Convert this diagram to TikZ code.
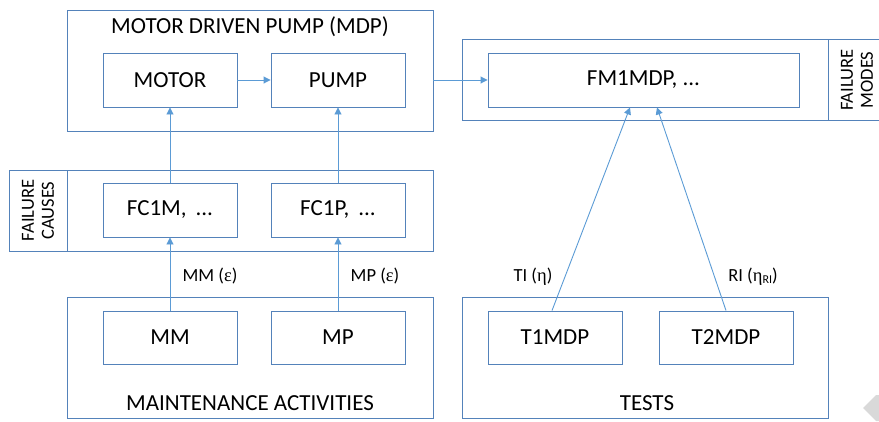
\documentclass[tikz,border=0pt]{standalone}
\usepackage{fontspec}
\setmainfont{Carlito}
\newfontfamily\grk{Liberation Serif}
\usetikzlibrary{arrows.meta,calc}
\definecolor{boxc}{RGB}{84,130,186}
\definecolor{arrc}{RGB}{91,155,213}
\begin{document}
\begin{tikzpicture}[x=1pt,y=-1pt,
 outerbox/.style={draw=boxc,line width=0.9pt,inner sep=0pt},
 innerbox/.style={draw=boxc,line width=0.9pt,minimum height=54pt,inner sep=0pt,font=\fontsize{23}{27}\selectfont},
 conn/.style={draw=arrc,line width=0.9pt},
 arr/.style={conn,-{Triangle[length=7pt,width=7pt]}},
 titletext/.style={font=\fontsize{23}{27}\selectfont,inner sep=0pt},
 sidetext/.style={font=\fontsize{18.5}{20}\selectfont,align=center,rotate=90,inner sep=0pt},
 elabel/.style={font=\fontsize{18.5}{21}\selectfont,inner sep=0pt}]
\useasboundingbox (0,0) rectangle (879,421);

% outer groups
\node[outerbox,minimum width=366pt,minimum height=121pt] (mdp) at (250,70.5) {};
\node[titletext] (mdpt) at (250,27) {MOTOR DRIVEN PUMP (MDP)};

\node[outerbox,minimum width=424pt,minimum height=81pt] (fcg) at (221,210.5) {};
\draw[boxc,line width=0.9pt] (67,170) -- (67,251);
\node[sidetext] (fclab) at (38,210.5) {FAILURE\\CAUSES};

\draw[boxc,line width=0.9pt] (879,39) -- (462,39) -- (462,120) -- (879,120);
\draw[boxc,line width=0.9pt] (828,39) -- (828,120);
\node[sidetext] (fmlab) at (857,80) {FAILURE\\MODES};

\node[outerbox,minimum width=366pt,minimum height=121pt] (maint) at (250,357.5) {};
\node[titletext] (maintt) at (250,403) {MAINTENANCE ACTIVITIES};

\node[outerbox,minimum width=366pt,minimum height=121pt] (tests) at (645,357.5) {};
\node[titletext] (testst) at (647,403) {TESTS};

% inner boxes
\node[innerbox,minimum width=134pt] (motor) at (170,80) {MOTOR};
\node[innerbox,minimum width=134pt] (pump) at (338,80) {PUMP};
\node[innerbox,minimum width=311pt] (fm) at (643.5,80) {FM1MDP, ...};
\node[innerbox,minimum width=134pt] (fc1m) at (170,210) {FC1M,\, ...};
\node[innerbox,minimum width=134pt] (fc1p) at (338,210) {FC1P,\, ...};
\node[innerbox,minimum width=134pt,minimum height=53pt] (mm) at (170,337.5) {MM};
\node[innerbox,minimum width=134pt,minimum height=53pt] (mp) at (338,337.5) {MP};
\node[innerbox,minimum width=134pt,minimum height=53pt] (t1) at (555,337.5) {T1MDP};
\node[innerbox,minimum width=134pt,minimum height=53pt] (t2) at (726,337.5) {T2MDP};

% connectors
\draw[arr] (motor.east) -- (pump.west);
\draw[arr] (mdp.east |- pump.east) -- (fm.west);
\draw[arr] (fc1m.north) -- (motor.south);
\draw[arr] (fc1p.north) -- (pump.south);
\draw[arr] (mm.north) -- (fc1m.south);
\draw[arr] (mp.north) -- (fc1p.south);
\draw[arr] ([xshift=-3pt]t1.north) -- ([xshift=-13.5pt]fm.south);
\draw[arr] (t2.north) -- ([xshift=13.5pt]fm.south);

% connector labels
\node[elabel] (lmm) at (210,276) {MM ({\grk ε})};
\node[elabel] (lmp) at (375,276) {MP ({\grk ε})};
\node[elabel] (lti) at (533,277) {TI ({\grk η})};
\node[elabel] (lri) at (753,277) {RI ({\grk η}{\fontsize{12}{13}\selectfont\raisebox{-2pt}{RI}})};

% corner artifact
\fill[gray!30] (863,408) -- (876,395) -- (879,395) -- (879,421) -- (876,421) -- cycle;
\end{tikzpicture}
\end{document}
